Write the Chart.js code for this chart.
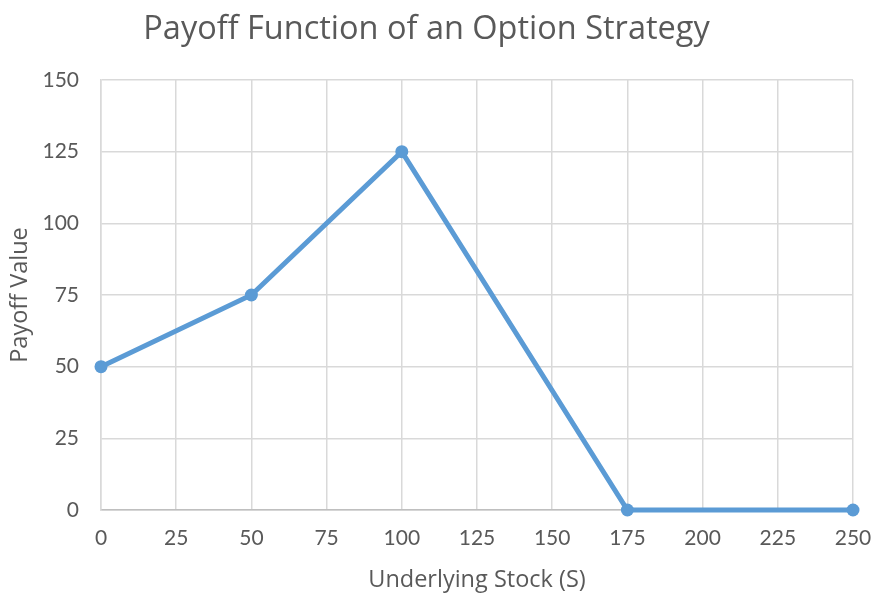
<!DOCTYPE html>
<html>
<head>
<meta charset="utf-8">
<script src="https://cdn.jsdelivr.net/npm/chart.js@4.4.1/dist/chart.umd.min.js"></script>
<style>
html,body{margin:0;padding:0;background:#fff;}
#wrap{width:875px;height:594px;}
</style>
</head>
<body>
<div id="wrap"><canvas id="c" width="875" height="594"></canvas></div>
<script>
const chartTitle = "Payoff Function of an Option Strategy";
const xAxisTitle = "Underlying Stock (S)";
const yAxisTitle = "Payoff Value";
const stockPrices = [0, 50, 100, 175, 250];
const payoffValues = [50, 75, 125, 0, 0];
const xTickMin = 0, xTickMax = 250, xTickStep = 25;
const yTickMin = 0, yTickMax = 150, yTickStep = 25;

const points = stockPrices.map((x, i) => ({x: x, y: payoffValues[i]}));
const FONT = "Lato, 'Open Sans', sans-serif";
const TFONT = "'Open Sans', Lato, sans-serif";
const grey = "#595959";
const gridC = "#d9d9d9";

new Chart(document.getElementById('c'), {
  type: 'line',
  data: {
    datasets: [{
      data: points,
      borderColor: '#5B9BD5',
      backgroundColor: '#5B9BD5',
      borderWidth: 5,
      pointRadius: 6.5,
      pointHoverRadius: 6.5,
      pointBorderWidth: 0,
      tension: 0,
      fill: false,
      clip: false
    }]
  },
  options: {
    responsive: false,
    animation: false,
    devicePixelRatio: 1,
    layout: {padding: {left: 0, right: 22, top: 0, bottom: 0}},
    plugins: {
      legend: {display: false},
      tooltip: {enabled: false},
      title: {
        display: true,
        text: chartTitle,
        color: grey,
        font: {family: TFONT, size: 32.5, weight: 'normal'},
        padding: {top: 10, bottom: 31}
      }
    },
    scales: {
      x: {
        type: 'linear',
        min: xTickMin, max: xTickMax,
        afterFit: s => { s.height = 84; s.paddingLeft = 0; s.paddingRight = 0; },
        border: {display: true, color: '#bfbfbf', width: 1.5},
        grid: {color: gridC, lineWidth: 1.5, drawTicks: false},
        ticks: {stepSize: xTickStep, color: grey, padding: 16,
                font: {family: FONT, size: 21}, maxRotation: 0},
        title: {display: true, text: xAxisTitle, color: grey,
                font: {family: TFONT, size: 23.5}, padding: {top: 4, bottom: 0}}
      },
      y: {
        min: yTickMin, max: yTickMax,
        afterFit: s => { s.width = 101; },
        border: {display: true, color: gridC, width: 1.5},
        grid: {color: gridC, lineWidth: 1.5, drawTicks: false},
        ticks: {stepSize: yTickStep, color: grey, padding: 22,
                font: {family: FONT, size: 21}},
        title: {display: true, text: yAxisTitle, color: grey,
                font: {family: TFONT, size: 23.5}, padding: {top: 6, bottom: 0}}
      }
    }
  }
});
</script>
</body>
</html>
